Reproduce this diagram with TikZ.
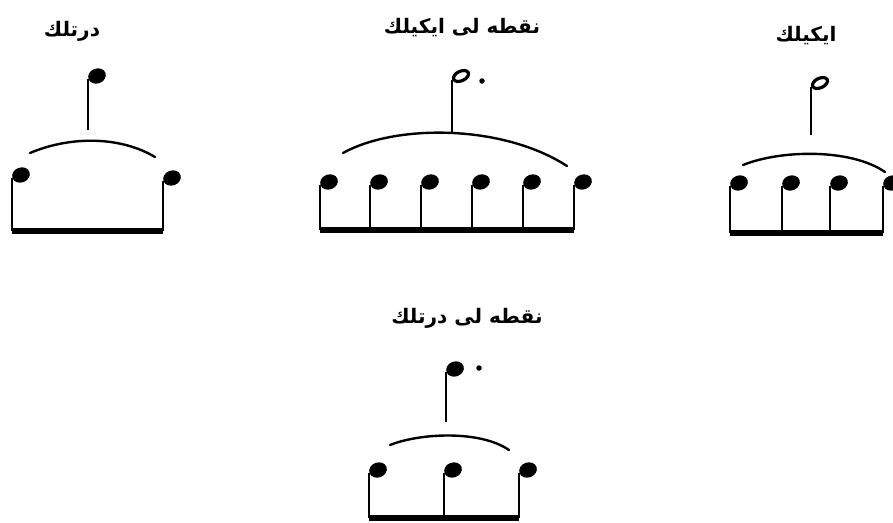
\documentclass[tikz,border=0pt]{standalone}
\usepackage{fontspec}
\newfontfamily\arabicfont[Script=Arabic]{DejaVu Sans}
\TeXXeTstate=1
\usetikzlibrary{shapes.geometric}
\begin{document}
\begin{tikzpicture}[x=1pt,y=-1pt,
  head/.style={ellipse, fill=black, minimum width=18pt, minimum height=15pt, inner sep=0pt, rotate=20},
  hhead/.style={ellipse, draw=black, line width=3.2pt, fill=white, minimum width=16pt, minimum height=9.5pt, inner sep=0pt, rotate=25},
  dotn/.style={circle, fill=black, minimum size=5.5pt, inner sep=0pt},
  stem/.style={line width=2.1pt},
  beam/.style={line width=5.5pt},
  slur/.style={line width=2.4pt, line cap=round},
  lab/.style={font=\arabicfont\bfseries\fontsize{20}{24}\selectfont, inner sep=0pt}]
\useasboundingbox[fill=white] (0,0) rectangle (893,522);

% ---------- Group 1 : quarter note ----------
\node[lab] (L1) at (72,31) {\beginR درتلك\endR};
\node[head] (T1) at (97,76) {};
\coordinate (S1) at (0,130);
\draw[stem] (T1.west) -- (T1.west |- S1);
\coordinate (A1s) at (30,153); \coordinate (A1e) at (155,157);
\draw[slur] (A1s) .. controls (70,136) and (120,136) .. (A1e);
\node[head] (B11) at (21,175) {};
\node[head] (B12) at (172,178) {};
\coordinate (BM1) at (0,231);
\draw[stem] (B11.west) -- (B11.west |- BM1);
\draw[stem] (B12.west) -- (B12.west |- BM1);
\draw[beam] (B11.west |- BM1) -- (B12.west |- BM1);

% ---------- Group 2 : dotted half note ----------
\node[lab] (L2) at (462,28) {\beginR نقطه لی ایكیلك\endR};
\node[hhead] (T2) at (461,76) {};
\node[dotn] (D2) at (482,81) {};
\coordinate (S2) at (0,132);
\draw[stem] (T2.west) -- (T2.west |- S2);
\coordinate (A2s) at (343,153); \coordinate (A2e) at (567,166);
\draw[slur] (A2s) .. controls (395,124) and (502,124) .. (A2e);
\foreach \i/\x in {1/329,2/379,3/430,4/481,5/532,6/583}{
  \node[head] (B2\i) at (\x,182) {};
}
\coordinate (BM2) at (0,230);
\foreach \i in {1,...,6}{
  \draw[stem] (B2\i.west) -- (B2\i.west |- BM2);
}
\draw[beam] (B21.west |- BM2) -- (B26.west |- BM2);

% ---------- Group 3 : half note ----------
\node[lab] (L3) at (806,36) {\beginR ایكیلك\endR};
\node[hhead] (T3) at (820,83) {};
\coordinate (S3) at (0,135);
\draw[stem] (T3.west) -- (T3.west |- S3);
\coordinate (A3s) at (743,165); \coordinate (A3e) at (885,172);
\draw[slur] (A3s) .. controls (780,150) and (850,148) .. (A3e);
\foreach \i/\x in {1/739,2/791,3/839,4/892}{
  \node[head] (B3\i) at (\x,183) {};
}
\coordinate (BM3) at (0,233);
\foreach \i in {1,...,4}{
  \draw[stem] (B3\i.west) -- (B3\i.west |- BM3);
}
\draw[beam] (B31.west |- BM3) -- (B34.west |- BM3);

% ---------- Group 4 : dotted quarter note ----------
\node[lab] (L4) at (467,318) {\beginR نقطه لی درتلك\endR};
\node[head] (T4) at (455,369) {};
\node[dotn] (D4) at (479,368) {};
\coordinate (S4) at (0,422);
\draw[stem] (T4.west) -- (T4.west |- S4);
\coordinate (A4s) at (390,445); \coordinate (A4e) at (509,450);
\draw[slur] (A4s) .. controls (420,433) and (480,430) .. (A4e);
\foreach \i/\x in {1/378,2/453,3/528}{
  \node[head] (B4\i) at (\x,470) {};
}
\coordinate (BM4) at (0,518);
\foreach \i in {1,...,3}{
  \draw[stem] (B4\i.west) -- (B4\i.west |- BM4);
}
\draw[beam] (B41.west |- BM4) -- (B43.west |- BM4);
\end{tikzpicture}
\end{document}
